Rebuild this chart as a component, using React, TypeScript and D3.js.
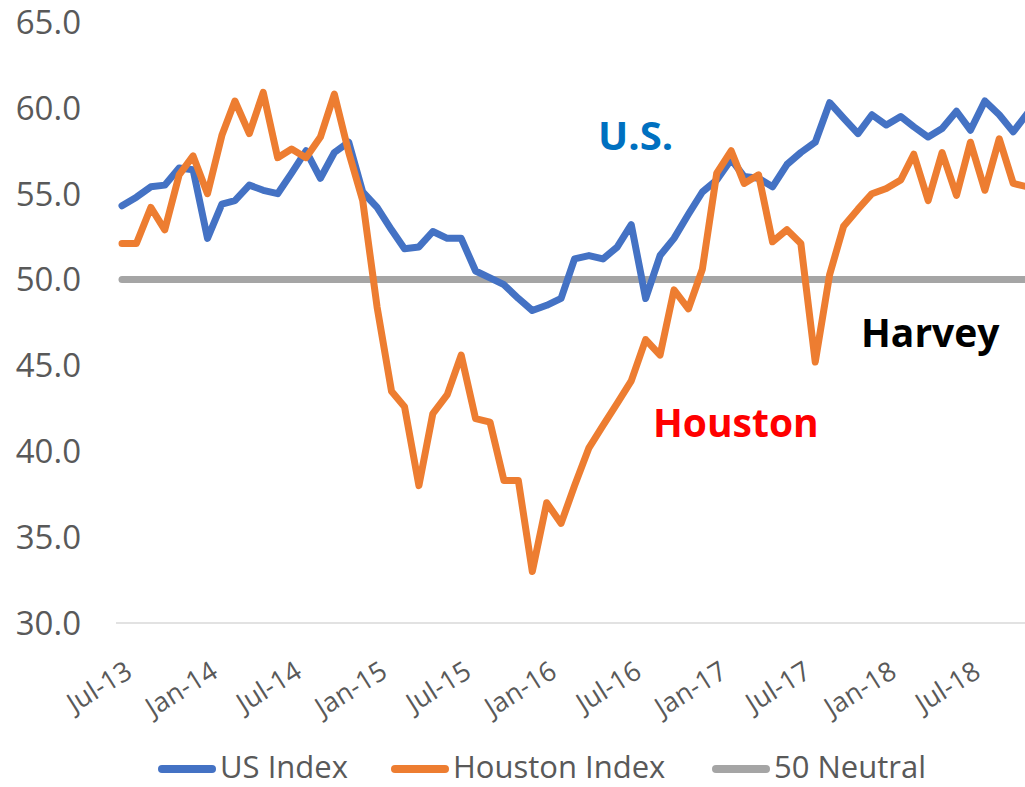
import React from 'react';
import * as d3 from 'd3';

// monthly readings, Jul-13 .. Nov-18
const usIndex = [
  54.3, 54.8, 55.4, 55.5, 56.5, 56.4, 52.4, 54.4, 54.6, 55.5, 55.2, 55.0,
  56.2, 57.5, 55.9, 57.4, 58.0, 55.1, 54.2, 52.9, 51.8, 51.9, 52.8, 52.4,
  52.4, 50.5, 50.1, 49.7, 48.9, 48.2, 48.5, 48.9, 51.2, 51.4, 51.2, 51.9,
  53.2, 48.9, 51.4, 52.4, 53.8, 55.1, 55.8, 57.0, 56.0, 55.9, 55.4, 56.7,
  57.4, 58.0, 60.3, 59.4, 58.5, 59.6, 59.0, 59.5, 58.9, 58.3, 58.8, 59.8,
  58.7, 60.4, 59.6, 58.6, 59.7,
];

const houstonIndex = [
  52.1, 52.1, 54.2, 52.9, 56.1, 57.2, 55.0, 58.4, 60.4, 58.5, 60.9, 57.1,
  57.6, 57.1, 58.3, 60.8, 57.4, 54.6, 48.4, 43.5, 42.6, 38.0, 42.2, 43.3,
  45.6, 41.9, 41.7, 38.3, 38.3, 33.0, 37.0, 35.8, 38.0, 40.2, 41.5, 42.8,
  44.1, 46.5, 45.6, 49.4, 48.3, 50.6, 56.2, 57.5, 55.6, 56.1, 52.2, 52.9,
  52.1, 45.2, 50.3, 53.1, 54.1, 55.0, 55.3, 55.8, 57.3, 54.6, 57.4, 54.9,
  58.0, 55.2, 58.2, 55.6, 55.4,
];

const neutralLevel = 50;

const months = d3.timeMonth.range(new Date(2013, 6, 1), new Date(2018, 11, 1));

const tickDates = d3.timeMonth.every(6)!.range(new Date(2013, 6, 1), new Date(2018, 8, 1));
const tickLabels = ['Jul-13', 'Jan-14', 'Jul-14', 'Jan-15', 'Jul-15', 'Jan-16', 'Jul-16', 'Jan-17', 'Jul-17', 'Jan-18', 'Jul-18'];

const yTicks = [30, 35, 40, 45, 50, 55, 60, 65];

const legendItems = [
  { label: 'US Index', color: '#4472C4', x: 158 },
  { label: 'Houston Index', color: '#ED7D31', x: 391 },
  { label: '50 Neutral', color: '#A5A5A5', x: 712 },
];

const width = 1025;
const height = 787;
const font = "'Open Sans', 'Noto Sans', sans-serif";

export default function App() {
  const x = d3
    .scaleTime()
    .domain([months[0], months[months.length - 1]])
    .range([122, 122 + (months.length - 1) * 14.15]);
  const y = d3.scaleLinear().domain([30, 65]).range([623, 22]);

  const line = d3
    .line<number>()
    .x((_, i) => x(months[i]))
    .y((d) => y(d));

  return (
    <svg
      width={width}
      height={height}
      style={{ position: 'absolute', left: 0, top: 0, background: '#fff' }}
      fontFamily={font}
    >
      {/* y labels */}
      {yTicks.map((t) => (
        <text key={t} x={81} y={y(t)} dy="0.36em" textAnchor="end" fontSize={33} fill="#595959">
          {t.toFixed(1)}
        </text>
      ))}

      {/* baseline */}
      <line x1={116} x2={width} y1={y(30)} y2={y(30)} stroke="#D9D9D9" strokeWidth={1.5} />

      {/* x labels */}
      {tickDates.map((d, i) => (
        <text
          key={i}
          transform={`translate(${x(d) + 12},${676}) rotate(-32)`}
          textAnchor="end"
          fontSize={27}
          fill="#595959"
        >
          {tickLabels[i]}
        </text>
      ))}

      {/* neutral line */}
      <line
        x1={x(months[0])}
        x2={width + 10}
        y1={y(neutralLevel)}
        y2={y(neutralLevel)}
        stroke="#A5A5A5"
        strokeWidth={7}
        strokeLinecap="round"
      />

      <path d={line(usIndex)!} fill="none" stroke="#4472C4" strokeWidth={7} strokeLinejoin="round" strokeLinecap="round" />
      <path d={line(houstonIndex)!} fill="none" stroke="#ED7D31" strokeWidth={7} strokeLinejoin="round" strokeLinecap="round" />

      {/* annotations */}
      <text x={598} y={150} fontSize={40} fontWeight="bold" fill="#0070C0">U.S.</text>
      <text x={653} y={437} fontSize={39} fontWeight="bold" fill="#FF0000">Houston</text>
      <text x={861} y={347} fontSize={39} fontWeight="bold" fill="#000000">Harvey</text>

      {/* legend */}
      {legendItems.map((item) => (
        <g key={item.label}>
          <line
            x1={item.x + 4}
            x2={item.x + 54}
            y1={769}
            y2={769}
            stroke={item.color}
            strokeWidth={8}
            strokeLinecap="round"
          />
          <text x={item.x + 62} y={778} fontSize={31} fill="#595959">
            {item.label}
          </text>
        </g>
      ))}
    </svg>
  );
}
